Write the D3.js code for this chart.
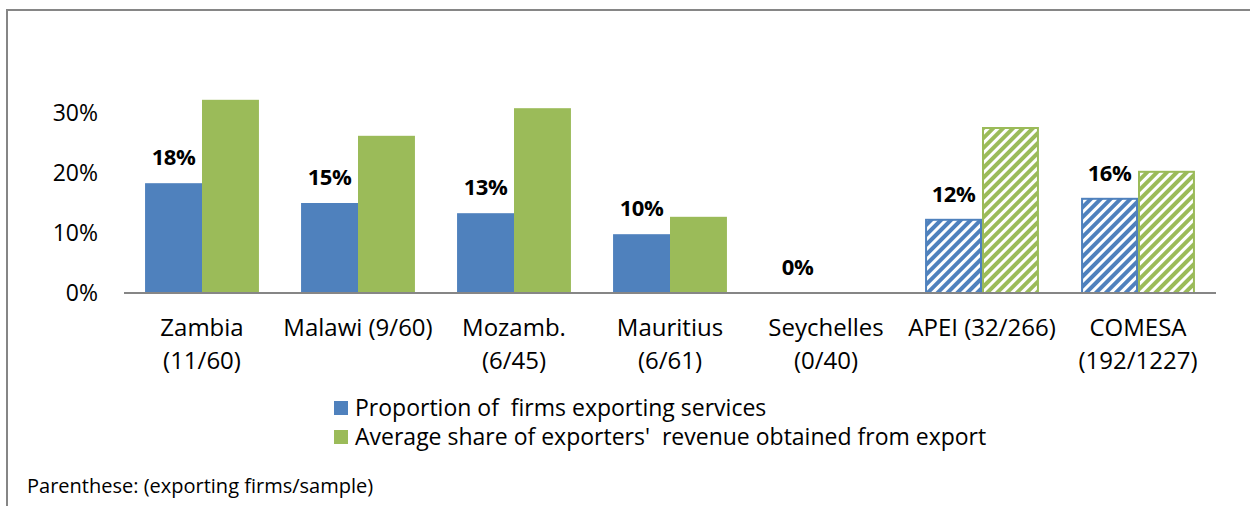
<!DOCTYPE html>
<html><head><meta charset="utf-8">
<script src="https://cdn.jsdelivr.net/npm/d3@7"></script>
<style>body{margin:0;background:#fff}svg{display:block}text{font-family:"Open Sans",sans-serif}</style>
</head><body>
<script>
const categories = ["Zambia\n(11/60)", "Malawi (9/60)", "Mozamb.\n(6/45)", "Mauritius\n(6/61)", "Seychelles\n(0/40)", "APEI (32/266)", "COMESA\n(192/1227)"];
const proportion = [0.183, 0.15, 0.133, 0.098, 0.0, 0.122, 0.157];
const avgShare = [0.322, 0.262, 0.308, 0.127, 0.0, 0.275, 0.202];
const labels = ["18%", "15%", "13%", "10%", "0%", "12%", "16%"];
const hatched = [false, false, false, false, false, true, true];
const yTicks = [0, 0.1, 0.2, 0.3];
const seriesNames = ["Proportion of  firms exporting services", "Average share of exporters'  revenue obtained from export"];
const note = "Parenthese: (exporting firms/sample)";

const W = 1250, H = 506;
const colors = ["#4F81BD", "#9BBB59"];
const svg = d3.select("body").append("svg").attr("width", W).attr("height", H);

const defs = svg.append("defs");
colors.forEach((c, i) => {
  const p = defs.append("pattern").attr("id", "hatch" + i).attr("patternUnits", "userSpaceOnUse")
    .attr("width", 7).attr("height", 7).attr("patternTransform", "rotate(45)");
  p.append("rect").attr("width", 7).attr("height", 7).attr("fill", "#fff");
  p.append("rect").attr("width", 4).attr("height", 7).attr("fill", c);
});

// frame
svg.append("path").attr("d", `M7,${H} V10 H${W}`).attr("fill", "none").attr("stroke", "#868686").attr("stroke-width", 2);

const x0 = 124, x1 = 1216, yBase = 293;
const x = d3.scaleBand().domain(d3.range(categories.length)).range([x0, x1]).paddingInner(0.27).paddingOuter(0.135);
const y = d3.scaleLinear().domain([0, 0.3]).range([yBase, 113]);
const xs = d3.scaleBand().domain([0, 1]).range([0, x.bandwidth()]);

// y tick labels
svg.append("g").selectAll("text").data(yTicks).join("text")
  .attr("x", 98).attr("y", d => y(d)).attr("dy", "0.35em").attr("text-anchor", "end")
  .attr("font-size", 23).attr("fill", "#000").text(d => d3.format(".0%")(d));

const series = [proportion, avgShare];
series.forEach((vals, si) => {
  svg.append("g").selectAll("rect").data(vals).join("rect")
    .attr("x", (d, i) => x(i) + xs(si) + (hatched[i] ? 1 : 0))
    .attr("y", d => y(d))
    .attr("width", (d, i) => xs.bandwidth() - (hatched[i] ? 2 : 0))
    .attr("height", d => yBase - y(d))
    .attr("fill", (d, i) => hatched[i] ? `url(#hatch${si})` : colors[si])
    .attr("stroke", (d, i) => hatched[i] ? colors[si] : "none")
    .attr("stroke-width", 2)
    .style("display", d => d > 0 ? null : "none");
});

// axis baseline
svg.append("line").attr("x1", x0).attr("x2", x1).attr("y1", yBase).attr("y2", yBase)
  .attr("stroke", "#868686").attr("stroke-width", 2);

// data labels
svg.append("g").selectAll("text").data(proportion).join("text")
  .attr("x", (d, i) => x(i) + xs(0) + xs.bandwidth() / 2)
  .attr("y", d => y(d) - 26).attr("dy", "0.35em").attr("text-anchor", "middle")
  .attr("font-size", 22).attr("font-weight", "bold").attr("fill", "#000")
  .attr("letter-spacing", -0.4)
  .text((d, i) => labels[i]);

// category labels
const cg = svg.append("g").selectAll("text").data(categories).join("text")
  .attr("text-anchor", "middle").attr("font-size", 24).attr("fill", "#000")
  .attr("x", (d, i) => x(i) + x.bandwidth() / 2).attr("y", 328);
cg.selectAll("tspan").data(d => d.split("\n")).join("tspan")
  .attr("x", function () { return d3.select(this.parentNode).attr("x"); })
  .attr("dy", (d, j) => j === 0 ? "0.35em" : 33).text(d => d);

// legend
const lg = svg.append("g").selectAll("g").data(seriesNames).join("g")
  .attr("transform", (d, i) => `translate(334,${401 + i * 29})`);
lg.append("rect").attr("width", 14).attr("height", 14).attr("fill", (d, i) => colors[i]);
lg.append("text").attr("x", 21).attr("y", 7).attr("dy", "0.35em").attr("font-size", 23)
  .attr("fill", "#000").style("white-space", "pre").attr("xml:space", "preserve").text(d => d);

svg.append("text").attr("x", 27).attr("y", 486).attr("dy", "0.35em").attr("font-size", 20)
  .attr("fill", "#000").text(note);
</script>
</body></html>
